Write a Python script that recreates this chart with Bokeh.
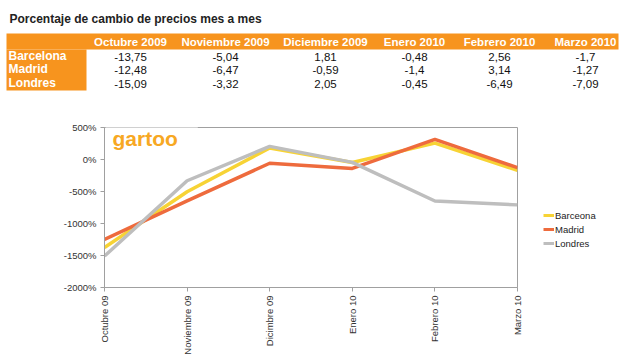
import math
from bokeh.plotting import figure
from bokeh.models import (Range1d, FixedTicker, Label, Legend, LegendItem)
from bokeh.layouts import column, row
from bokeh.embed import file_html
from bokeh.resources import INLINE
from bokeh.core.properties import value

# ---------------- data ----------------
title = "Porcentaje de cambio de precios mes a mes"
months_table = ["Octubre 2009", "Noviembre 2009", "Diciembre 2009", "Enero 2010", "Febrero 2010", "Marzo 2010"]
months_axis = ["Octubre 09", "Noviembre 09", "Dicimbre 09", "Enero 10", "Febrero 10", "Marzo 10"]
cities = ["Barcelona", "Madrid", "Londres"]
legend_labels = ["Barceona", "Madrid", "Londres"]
barcelona = [-13.75, -5.04, 1.81, -0.48, 2.56, -1.7]
madrid = [-12.48, -6.47, -0.59, -1.4, 3.14, -1.27]
londres = [-15.09, -3.32, 2.05, -0.45, -6.49, -7.09]
y_ticks = [-2000, -1500, -1000, -500, 0, 500]

series = [barcelona, madrid, londres]
colors = ["#F7D335", "#EE6B3D", "#BEBEBE"]
ORANGE = "#F7941E"
FONT = "Liberation Sans"

# ---------------- table figure ----------------
W = 633
T_H = 100
t = figure(width=W, height=T_H, x_range=Range1d(0, W), y_range=Range1d(T_H, 0),
           output_backend="svg", toolbar_location=None,
           x_axis_location=None, y_axis_location=None, min_border=0)
t.frame_align = False
t.outline_line_color = None
t.xgrid.visible = False
t.ygrid.visible = False

# layout of the table (pixel positions)
col_centers = [130, 225, 325, 414, 499, 585]
row_label_y = [55.5, 68.5, 82]
row_value_y = [56.5, 69.5, 83]

t.text(x=[9], y=[18], text=[title], text_font=value(FONT), text_font_size="12px",
       text_font_style="bold", text_color="#222222", text_baseline="alphabetic")

t.quad(left=[6], right=[618], top=[33], bottom=[49], fill_color=ORANGE, line_color=None)
t.quad(left=[6], right=[86], top=[49], bottom=[90], fill_color=ORANGE, line_color=None)

t.text(x=col_centers, y=[41.5] * 6, text=months_table, text_font=value(FONT),
       text_font_size="11.5px", text_font_style="bold", text_color="white",
       text_align="center", text_baseline="middle")
t.text(x=[8] * 3, y=row_label_y, text=cities, text_font=value(FONT),
       text_font_size="12px", text_font_style="bold", text_color="white",
       text_align="left", text_baseline="middle")

vx, vy, vt = [], [], []
for ri, s in enumerate(series):
    for ci, v in enumerate(s):
        vx.append(col_centers[ci])
        vy.append(row_value_y[ri])
        vt.append(f"{v:g}".replace(".", ","))
t.text(x=vx, y=vy, text=vt, text_font=value(FONT), text_font_size="11.5px",
       text_color="#111111", text_align="center", text_baseline="middle")

# ---------------- chart figure ----------------
C_H = 257
P_W = 542
p = figure(width=P_W, height=C_H, x_range=Range1d(0, 5), y_range=Range1d(-2000, 500),
           output_backend="svg", toolbar_location=None)
p.frame_align = False
p.min_border_left = 104
p.min_border_right = 25
p.min_border_top = 27
p.min_border_bottom = 70
p.outline_line_color = "#A0A0A0"
p.xgrid.visible = False
p.ygrid.visible = False

x = list(range(len(months_axis)))
for s, c in zip(series, colors):
    p.line(x=x, y=[v * 100 for v in s], line_color=c, line_width=3.5, line_join="round")

for ax in (p.xaxis[0], p.yaxis[0]):
    ax.axis_line_color = "#A0A0A0"
    ax.major_tick_line_color = "#A0A0A0"
    ax.major_tick_in = 0
    ax.major_tick_out = 4
    ax.minor_tick_line_color = None
    ax.major_label_text_font = FONT
    ax.major_label_text_font_size = "9.5px"
    ax.major_label_text_color = "#333333"
    ax.major_label_standoff = 4

p.yaxis[0].ticker = FixedTicker(ticks=y_ticks)
p.yaxis[0].major_label_overrides = {v: f"{v}%" for v in y_ticks}
p.xaxis[0].ticker = FixedTicker(ticks=x)
p.xaxis[0].major_label_overrides = {i: m for i, m in enumerate(months_axis)}
p.xaxis[0].major_label_orientation = math.pi / 2

logo = Label(x=0, y=500, x_offset=1, y_offset=-22, text="gartoo",
             text_font=FONT, text_font_size="21px", text_font_style="bold",
             text_color="#F7A823", background_fill_color="white",
             padding=dict(left=7, right=20, top=7, bottom=0))
p.add_layout(logo)

# ---------------- legend figure (to the right of the chart) ----------------
lf = figure(width=W - P_W, height=C_H, x_range=Range1d(-100, -99), y_range=Range1d(-2000, 500),
            output_backend="svg", toolbar_location=None,
            x_axis_location=None, y_axis_location=None, min_border=0)
lf.frame_align = False
lf.outline_line_color = None
lf.xgrid.visible = False
lf.ygrid.visible = False
leg_renderers = [lf.line(x=x, y=[v * 100 for v in s], line_color=c, line_width=3)
                 for s, c in zip(series, colors)]
legend = Legend(items=[LegendItem(label=l, renderers=[r]) for l, r in zip(legend_labels, leg_renderers)],
                location=(1, 107), glyph_width=11, glyph_height=14, label_height=14,
                spacing=0, padding=0, margin=0, label_standoff=1,
                label_text_font=FONT, label_text_font_size="9.5px", label_text_color="#222222",
                border_line_color=None, background_fill_alpha=0)
lf.add_layout(legend)

layout = column(t, row(p, lf, spacing=0), spacing=0)
open("out.html", "w").write(file_html(layout, INLINE))
